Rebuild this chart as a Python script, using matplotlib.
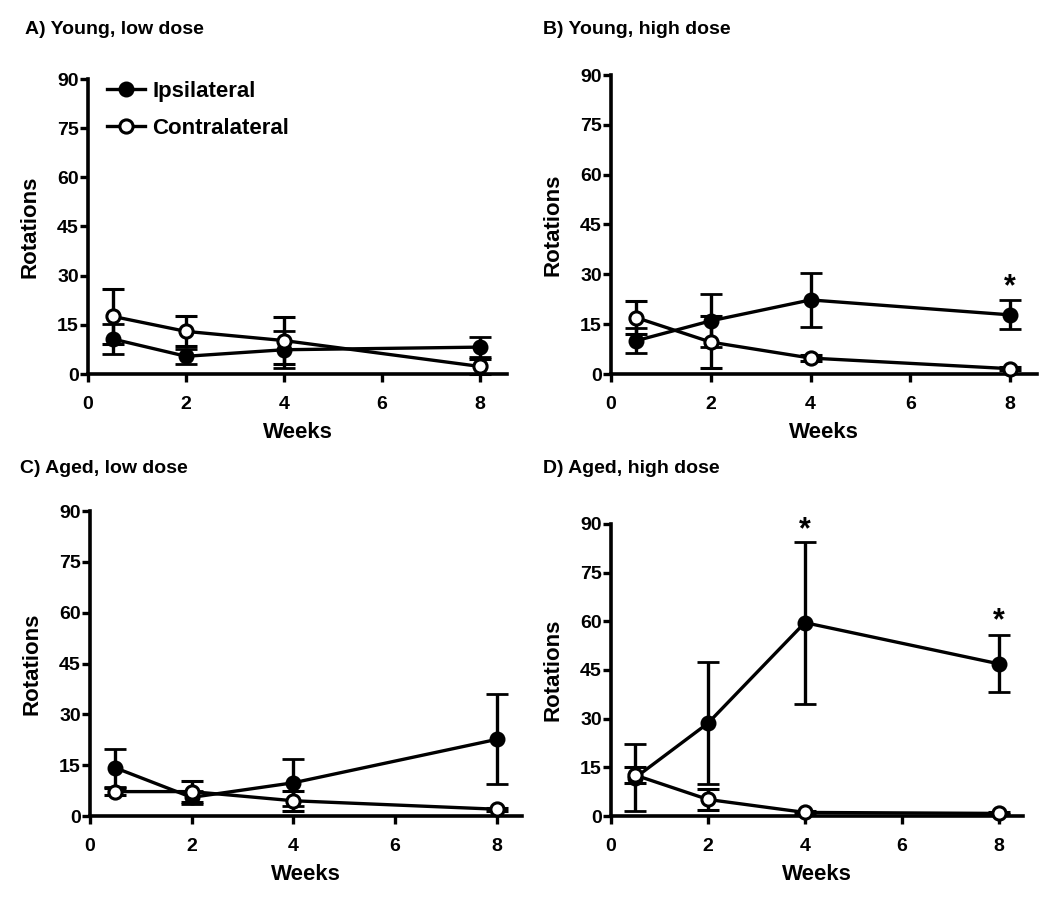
import matplotlib
matplotlib.use("Agg")
import matplotlib.pyplot as plt
from matplotlib.lines import Line2D
import numpy as np

plt.rcParams['font.family'] = ['Liberation Sans', 'DejaVu Sans']
plt.rcParams['font.weight'] = 'bold'

weeks = [0.5, 2, 4, 8]

titles = ["A) Young, low dose", "B) Young, high dose", "C) Aged, low dose", "D) Aged, high dose"]

ipsi_mean = {
    "A": [10.7, 5.4, 7.4, 8.2],
    "B": [10.0, 16.0, 22.3, 17.8],
    "C": [14.2, 5.5, 9.8, 22.6],
    "D": [11.8, 28.6, 59.6, 46.9],
}
ipsi_err = {
    "A": [4.5, 2.3, 5.6, 3.1],
    "B": [3.7, 8.0, 8.2, 4.4],
    "C": [5.5, 2.0, 6.9, 13.3],
    "D": [10.4, 18.8, 25.0, 8.8],
}
contra_mean = {
    "A": [17.6, 13.0, 10.2, 2.3],
    "B": [17.0, 9.6, 4.8, 1.6],
    "C": [7.2, 7.2, 4.5, 2.0],
    "D": [12.6, 5.1, 1.1, 0.8],
}
contra_err = {
    "A": [8.3, 4.6, 7.1, 2.4],
    "B": [5.1, 7.8, 0.8, 0.5],
    "C": [1.0, 3.2, 2.9, 0.5],
    "D": [2.5, 3.3, 0.5, 0.3],
}
# significance stars: (week, y position)
stars = {
    "A": [],
    "B": [(8, 26.0)],
    "C": [],
    "D": [(4, 88.0), (8, 60.0)],
}

yticks = [0, 15, 30, 45, 60, 75, 90]
xticks = [0, 2, 4, 6, 8]

fig = plt.figure(figsize=(10.5, 9.05), dpi=100)
W, H = 1050, 905

def ax_rect(left, right, top, bottom):
    return [left / W, (H - bottom) / H, (right - left) / W, (bottom - top) / H]

rects = {
    "A": ax_rect(88, 507, 79, 374),
    "B": ax_rect(611, 1037, 75, 374),
    "C": ax_rect(90, 522, 511, 816),
    "D": ax_rect(611, 1023, 524, 816),
}
xmax = {"A": 8.55, "B": 8.54, "C": 8.5, "D": 8.5}
title_pos = {"A": (25, 30), "B": (543, 30), "C": (20, 468), "D": (543, 468)}

lw = 2.4
ms = 9.5
for key, title in zip(["A", "B", "C", "D"], titles):
    ax = fig.add_axes(rects[key])
    ax.errorbar(weeks, ipsi_mean[key], yerr=ipsi_err[key], color='black', lw=lw,
                marker='o', ms=ms, mfc='black', mec='black', mew=2,
                capsize=8, capthick=lw, elinewidth=lw, clip_on=False, zorder=3)
    ax.errorbar(weeks, contra_mean[key], yerr=contra_err[key], color='black', lw=lw,
                marker='o', ms=ms, mfc='white', mec='black', mew=2.2,
                capsize=8, capthick=lw, elinewidth=lw, clip_on=False, zorder=4)
    for (sx, sy) in stars[key]:
        ax.text(sx, sy, '*', ha='center', va='center', fontsize=22, fontweight='bold')
    ax.set_xlim(0, xmax[key])
    ax.set_ylim(0, 90)
    ax.set_xticks(xticks)
    ax.set_yticks(yticks)
    ax.tick_params(axis='both', direction='out', width=2.4, length=6, labelsize=14)
    ax.tick_params(axis='x', pad=10)
    ax.tick_params(axis='y', pad=0.5)
    for lab in ax.get_xticklabels() + ax.get_yticklabels():
        lab.set_fontweight('bold')
    ax.spines['top'].set_visible(False)
    ax.spines['right'].set_visible(False)
    ax.spines['left'].set_linewidth(2.6)
    ax.spines['bottom'].set_linewidth(2.6)
    ax.set_xlabel('Weeks', fontsize=16, fontweight='bold', labelpad=6)
    ax.set_ylabel('Rotations', fontsize=16, fontweight='bold', labelpad=12)
    tx, ty = title_pos[key]
    fig.text(tx / W, 1 - ty / H, title, ha='left', va='center', fontsize=14, fontweight='bold')
    if key == "A":
        handles = [
            Line2D([], [], color='black', lw=lw, marker='o', ms=ms, mfc='black', mec='black', mew=2),
            Line2D([], [], color='black', lw=lw, marker='o', ms=ms, mfc='white', mec='black', mew=2.2),
        ]
        leg = ax.legend(handles, ['Ipsilateral', 'Contralateral'], loc='upper left',
                        bbox_to_anchor=(0.023, 1.025), frameon=False,
                        fontsize=16, handlelength=1.75, handletextpad=0.3, labelspacing=0.75,
                        borderaxespad=0)
        for t in leg.get_texts():
            t.set_fontweight('bold')

fig.savefig('out.png', dpi=100)
